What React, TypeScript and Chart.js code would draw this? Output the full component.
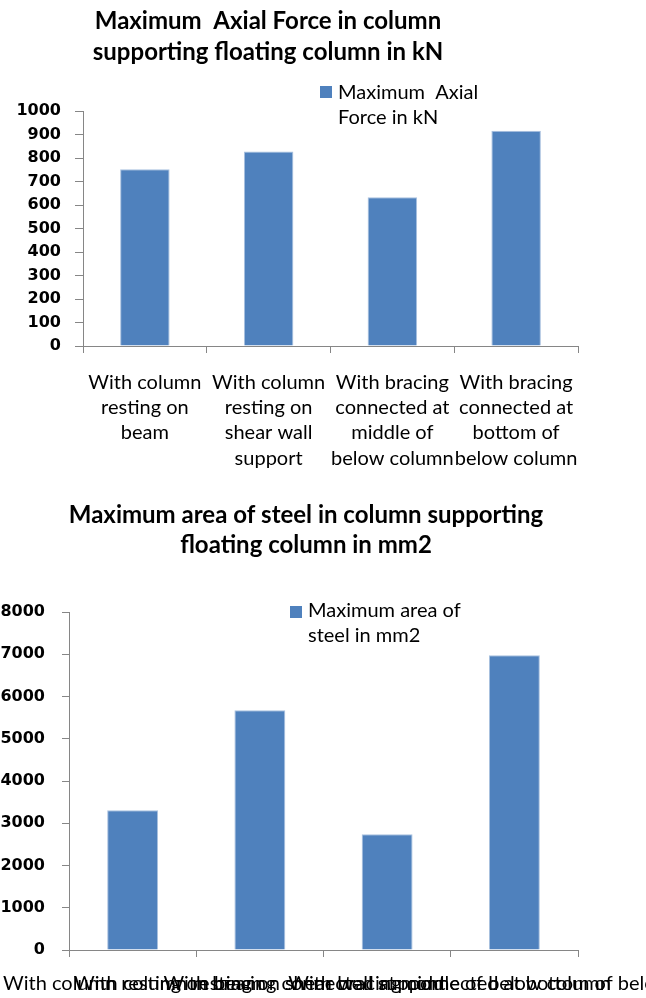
import React, { useEffect, useRef } from "react";
import { Chart, registerables } from "chart.js";

Chart.register(...registerables);

// ---------- Data ----------
const title1 = ["Maximum  Axial Force in column", "supporting floating column in kN"];
const legend1 = ["Maximum  Axial", "Force in kN"];
const seriesLabel1 = "Maximum  Axial Force in kN";
const categories1 = [
  ["With column", "resting on", "beam"],
  ["With column", "resting on", "shear wall", "support"],
  ["With bracing", "connected at", "middle of", "below column"],
  ["With bracing", "connected at", "bottom of", "below column"],
];
const axialForceKN = [752, 828, 633, 916];
const yMax1 = 1000;
const yStep1 = 100;

const title2 = ["Maximum area of steel in column supporting", "floating column in mm2"];
const legend2 = ["Maximum area of", "steel in mm2"];
const seriesLabel2 = "Maximum area of steel in mm2";
const categories2 = [
  "With column resting on beam",
  "With column resting on shear wall support",
  "With bracing connected at middle of below column",
  "With bracing connected at bottom of below column",
];
const steelAreaMM2 = [3306, 5673, 2738, 6975];
const yMax2 = 8000;
const yStep2 = 1000;

// ---------- Styles ----------
const BAR = "#4F81BD";
const AXIS = "#868686";
const TXT = "Lato, 'Open Sans', sans-serif";

const decorPlugin = {
  id: "decor",
  afterDraw(chart: any, _args: any, opts: any) {
    const ctx = chart.ctx;
    ctx.save();
    ctx.fillStyle = "#000";
    ctx.textBaseline = "alphabetic";
    ctx.textAlign = "center";
    ctx.font = opts.titleFont;
    opts.title.forEach((line: string, i: number) => {
      ctx.fillText(line, opts.titleX, opts.titleY + i * opts.titleLH);
    });
    const ds = chart.data.datasets[0];
    ctx.fillStyle = ds.backgroundColor;
    ctx.fillRect(opts.boxX, opts.boxY, opts.boxSize, opts.boxSize);
    ctx.fillStyle = "#000";
    ctx.textAlign = "left";
    ctx.font = opts.legendFont;
    opts.legend.forEach((line: string, i: number) => {
      ctx.fillText(line, opts.legendX, opts.legendY + i * opts.legendLH);
    });
    ctx.restore();
  },
};

function makeConfig(p: any) {
  return {
    type: "bar" as const,
    data: {
      labels: p.labels,
      datasets: [
        {
          label: p.seriesLabel,
          data: p.values,
          backgroundColor: BAR,
          borderColor: "#A9C1DF",
          borderWidth: 1,
          barPercentage: 0.4,
          categoryPercentage: 1,
        },
      ],
    },
    options: {
      animation: false,
      responsive: false,
      maintainAspectRatio: false,
      layout: { padding: { top: p.top, right: p.right, left: 0, bottom: 0 } },
      plugins: {
        legend: { display: false },
        title: { display: false },
        tooltip: { enabled: false },
        decor: p.decor,
      },
      scales: {
        x: {
          afterFit: (s: any) => {
            s.height = p.xHeight;
            s.paddingLeft = 0;
            s.paddingRight = 0;
          },
          grid: {
            offset: true,
            drawOnChartArea: false,
            drawTicks: true,
            tickLength: 7,
            color: AXIS,
          },
          border: { display: true, color: AXIS, width: 1 },
          ticks: {
            autoSkip: false,
            maxRotation: 0,
            minRotation: 0,
            padding: p.xPad,
            color: "#000",
            font: { family: TXT, size: 20, lineHeight: 1.26 },
          },
        },
        y: {
          min: 0,
          max: p.yMax,
          afterFit: (s: any) => {
            s.width = p.left;
            s.paddingTop = 0;
            s.paddingBottom = 0;
          },
          grid: {
            drawOnChartArea: false,
            drawTicks: true,
            tickLength: p.yTick,
            color: AXIS,
          },
          border: { display: true, color: AXIS, width: 1 },
          ticks: {
            stepSize: p.yStep,
            padding: p.yPad,
            color: "#000",
            callback: (v: any) => String(v),
            font: { family: "'DejaVu Sans', sans-serif", size: p.yFont, weight: "bold" },
          },
        },
      },
    },
    plugins: [decorPlugin],
  };
}

function BarChart({ cfg, width, height, top }: any) {
  const ref = useRef<HTMLCanvasElement>(null);
  useEffect(() => {
    if (!ref.current) return;
    const chart = new Chart(ref.current, cfg as any);
    return () => chart.destroy();
  }, []);
  return (
    <canvas
      ref={ref}
      width={width}
      height={height}
      style={{ position: "absolute", left: 0, top, width, height, display: "block" }}
    />
  );
}

export default function App() {
  const cfg1 = makeConfig({
    labels: categories1,
    seriesLabel: seriesLabel1,
    values: axialForceKN,
    yMax: yMax1,
    yStep: yStep1,
    top: 111,
    right: 68,
    left: 83,
    xHeight: 144,
    xPad: 17,
    yTick: 8,
    yPad: 14,
    yFont: 16,
    decor: {
      title: title1,
      titleFont: `bold 24px ${TXT}`,
      titleX: 268,
      titleY: 29,
      titleLH: 31,
      legend: legend1,
      legendFont: `20px ${TXT}`,
      boxX: 320,
      boxY: 86,
      boxSize: 12,
      legendX: 338,
      legendY: 99,
      legendLH: 25,
    },
  });
  const cfg2 = makeConfig({
    labels: categories2,
    seriesLabel: seriesLabel2,
    values: steelAreaMM2,
    yMax: yMax2,
    yStep: yStep2,
    top: 122,
    right: 68,
    left: 69,
    xHeight: 48,
    xPad: 14,
    yTick: 7,
    yPad: 17,
    yFont: 16,
    decor: {
      title: title2,
      titleFont: `bold 24px ${TXT}`,
      titleX: 306,
      titleY: 33,
      titleLH: 30,
      legend: legend2,
      legendFont: `20px ${TXT}`,
      boxX: 290,
      boxY: 116,
      boxSize: 12,
      legendX: 308,
      legendY: 127,
      legendLH: 25,
    },
  });
  return (
    <div style={{ position: "absolute", left: 0, top: 0, width: 646, height: 998, background: "#fff" }}>
      <BarChart cfg={cfg1} width={646} height={490} top={0} />
      <BarChart cfg={cfg2} width={646} height={508} top={490} />
    </div>
  );
}
